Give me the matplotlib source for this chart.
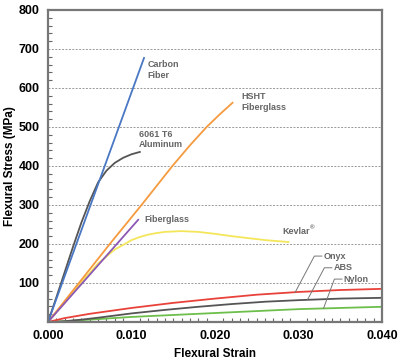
import matplotlib
matplotlib.use('Agg')
import matplotlib.pyplot as plt
from matplotlib.ticker import MultipleLocator

plt.rcParams['font.family'] = ['Liberation Sans', 'DejaVu Sans']

# strain / stress pairs
carbon_x = [0.0, 0.0115]
carbon_y = [0, 677]
alu_x = [0.0, 0.001, 0.002, 0.003, 0.004, 0.005, 0.006, 0.007, 0.008, 0.009, 0.010, 0.011]
alu_y = [0, 63, 128, 193, 255, 310, 358, 388, 408, 421, 430, 436]
hsht_x = [0.0, 0.004, 0.0074, 0.0112, 0.0149, 0.0170, 0.0190, 0.0206, 0.0221]
hsht_y = [0, 108, 200, 300, 400, 453, 500, 533, 562]
glass_x = [0.0, 0.0108]
glass_y = [0, 262]
kevlar_x = [0.0, 0.002, 0.004, 0.006, 0.008, 0.0092, 0.010, 0.011, 0.012, 0.013, 0.014, 0.016,
            0.018, 0.020, 0.022, 0.024, 0.026, 0.0288]
kevlar_y = [0, 50, 102, 150, 186, 200, 210, 218, 224, 228, 231, 233, 231, 226, 220, 215, 210, 205]
onyx_x = [0.0, 0.002, 0.005, 0.010, 0.015, 0.020, 0.025, 0.030, 0.035, 0.040]
onyx_y = [0, 10, 21, 36, 49, 60, 70, 77, 82, 85]
abs_x = [0.0, 0.002, 0.004, 0.006, 0.010, 0.014, 0.018, 0.022, 0.026, 0.030, 0.035, 0.040]
abs_y = [0, 2, 6, 11, 22, 31, 39, 46, 52, 56, 60, 62]
nylon_x = [0.0, 0.002, 0.005, 0.010, 0.015, 0.020, 0.025, 0.030, 0.035, 0.040]
nylon_y = [0, 2, 6, 13, 18, 23, 28, 33, 36, 39]

fig = plt.figure(figsize=(4.0, 3.62), dpi=100)
ax = fig.add_axes([0.12, 0.1105, 0.835, 0.862])

lw = 1.3
ax.plot(nylon_x, nylon_y, color='#6cbf4b', lw=lw)
ax.plot(abs_x, abs_y, color='#555555', lw=lw)
ax.plot(onyx_x, onyx_y, color='#e8423a', lw=lw)
ax.plot(kevlar_x, kevlar_y, color='#f4e65a', lw=lw)
ax.plot(hsht_x, hsht_y, color='#f59a3e', lw=lw)
ax.plot(glass_x, glass_y, color='#8c58b4', lw=lw)
ax.plot(alu_x, alu_y, color='#555555', lw=lw)
ax.plot(carbon_x, carbon_y, color='#4a77c4', lw=lw)

lab = dict(fontsize=6.5, fontweight='bold', color='#666666', va='center', ha='left')
ax.text(0.0119, 660, 'Carbon', **lab)
ax.text(0.0119, 632, 'Fiber', **lab)
ax.text(0.0109, 480, '6061 T6', **lab)
ax.text(0.0109, 454, 'Aluminum', **lab)
ax.text(0.0232, 578, 'HSHT', **lab)
ax.text(0.0232, 550, 'Fiberglass', **lab)
ax.text(0.0115, 263, 'Fiberglass', **lab)
ax.text(0.0281, 233, 'Kevlar', **lab)
ax.text(0.03135, 241, '\u00ae', fontsize=4.5, fontweight='bold', color='#666666', va='center', ha='left')
ax.text(0.0330, 169, 'Onyx', **lab)
ax.text(0.0342, 139, 'ABS', **lab)
ax.text(0.0354, 110, 'Nylon', **lab)

# leader lines
lead = dict(color='#777777', lw=0.7)
ax.plot([0.0328, 0.0319, 0.0296], [169, 169, 76], **lead)
ax.plot([0.0340, 0.0331, 0.0311], [139, 139, 58], **lead)
ax.plot([0.0352, 0.0343, 0.0330], [110, 110, 35], **lead)

ax.set_xlim(0, 0.040)
ax.set_ylim(0, 800)
ax.set_xticks([0.0, 0.010, 0.020, 0.030, 0.040])
ax.set_xticklabels(['0.000', '0.010', '0.020', '0.030', '0.040'])
ax.set_yticks([100, 200, 300, 400, 500, 600, 700, 800])
ax.xaxis.set_minor_locator(MultipleLocator(0.001))
ax.yaxis.set_minor_locator(MultipleLocator(20))
ax.tick_params(which='both', direction='in', color='#666666')
ax.tick_params(which='major', length=0, labelsize=9, pad=6)
ax.tick_params(which='minor', length=3, width=0.8)
for t in ax.get_xticklabels() + ax.get_yticklabels():
    t.set_fontweight('bold')
ax.grid(axis='y', which='major', linestyle=(0, (2, 1.5)), color='#999999', lw=0.7)
ax.set_axisbelow(True)
for s in ax.spines.values():
    s.set_color('#777777')
    s.set_linewidth(1.6)

ax.set_xlabel('Flexural Strain', fontsize=8.5, fontweight='bold', labelpad=4)
ax.set_ylabel('Flexural Stress (MPa)', fontsize=8.5, fontweight='bold', labelpad=2)

fig.savefig('out.png', dpi=100)
